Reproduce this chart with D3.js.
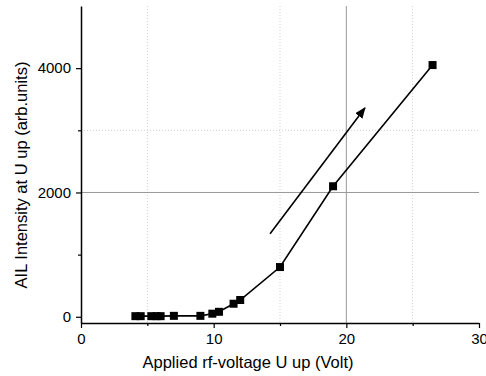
<!DOCTYPE html>
<html>
<head>
<meta charset="utf-8">
<script src="https://cdn.jsdelivr.net/npm/d3@7"></script>
<style>
  body { margin: 0; background: #fff; }
  svg { font-family: "Liberation Sans", Arial, sans-serif; }
</style>
</head>
<body>
<div id="chart"></div>
<script>
// measured points (U up in Volt, AIL intensity)
const voltage = [4.1, 4.5, 5.3, 5.7, 6.0, 7.0, 9.0, 9.9, 10.4, 11.5, 12.0, 15.0, 19.0, 26.5];
const intensity = [10, 10, 10, 10, 10, 15, 15, 50, 80, 210, 270, 800, 2100, 4050];
const xTicks = [0, 10, 20, 30];
const yTicks = [0, 2000, 4000];
const arrowStart = [14.25, 1335];
const arrowEnd = [21.4, 3360];

const width = 486, height = 376;
const margin = { top: 6, right: 7, bottom: 53, left: 81 };
const w = width - margin.left - margin.right;
const h = height - margin.top - margin.bottom;

const x = d3.scaleLinear().domain([0, 30]).range([0, w]);
const y = d3.scaleLinear().domain([-100, 5000]).range([h, 0]);

const svg = d3.select('#chart').append('svg')
  .attr('width', width)
  .attr('height', height)
  .append('g')
  .attr('transform', 'translate(' + margin.left + ',' + margin.top + ')');

// grid lines
[5, 15, 25].forEach(v => {
  svg.append('line')
    .attr('x1', x(v)).attr('x2', x(v)).attr('y1', 0).attr('y2', h)
    .attr('stroke', '#d0d0d0').attr('stroke-dasharray', '1,2');
});
svg.append('line')
  .attr('x1', 0).attr('x2', w).attr('y1', y(3000)).attr('y2', y(3000))
  .attr('stroke', '#d0d0d0').attr('stroke-dasharray', '1,2');
svg.append('line')
  .attr('x1', x(20)).attr('x2', x(20)).attr('y1', 0).attr('y2', h)
  .attr('stroke', '#999');
svg.append('line')
  .attr('x1', 0).attr('x2', w).attr('y1', y(2000)).attr('y2', y(2000))
  .attr('stroke', '#999');

// axes
svg.append('g')
  .attr('transform', 'translate(0,' + h + ')')
  .call(d3.axisBottom(x).tickValues(xTicks).tickFormat(d3.format('d'))
    .tickSize(5).tickSizeOuter(0).tickPadding(5));
svg.append('g')
  .attr('transform', 'translate(0,' + h + ')')
  .call(d3.axisBottom(x).tickValues([5, 15, 25]).tickSize(3).tickFormat(''))
  .select('.domain').remove();

svg.append('g')
  .call(d3.axisLeft(y).tickValues(yTicks).tickFormat(d3.format('d'))
    .tickSize(5).tickSizeOuter(0).tickPadding(5));
svg.append('g')
  .call(d3.axisLeft(y).tickValues([1000, 3000]).tickSize(3).tickFormat(''))
  .select('.domain').remove();

svg.selectAll('.tick text').style('font-size', '15px').attr('fill', '#000');
svg.selectAll('.domain').attr('stroke', '#000').attr('stroke-width', 1.5);
svg.selectAll('.tick line').attr('stroke', '#000').attr('stroke-width', 1.2);

// data line and markers
const pts = voltage.map((v, i) => [v, intensity[i]]);
svg.append('path')
  .datum(pts)
  .attr('fill', 'none')
  .attr('stroke', '#000')
  .attr('stroke-width', 1.6)
  .attr('d', d3.line().x(d => x(d[0])).y(d => y(d[1])));

svg.selectAll('.pt')
  .data(pts)
  .enter().append('rect')
  .attr('class', 'pt')
  .attr('x', d => x(d[0]) - 4)
  .attr('y', d => y(d[1]) - 4)
  .attr('width', 8)
  .attr('height', 8)
  .attr('fill', '#000');

// arrow
svg.append('defs').append('marker')
  .attr('id', 'head')
  .attr('viewBox', '0 0 10 10')
  .attr('refX', 9).attr('refY', 5)
  .attr('markerWidth', 7).attr('markerHeight', 7)
  .attr('orient', 'auto')
  .append('path')
  .attr('d', 'M0,1 L10,5 L0,9 Z')
  .attr('fill', '#000');

svg.append('line')
  .attr('x1', x(arrowStart[0])).attr('y1', y(arrowStart[1]))
  .attr('x2', x(arrowEnd[0])).attr('y2', y(arrowEnd[1]))
  .attr('stroke', '#000').attr('stroke-width', 1.6)
  .attr('marker-end', 'url(#head)');

// axis titles
svg.append('text')
  .attr('x', 248 - margin.left)
  .attr('y', 368 - margin.top)
  .style('text-anchor', 'middle')
  .style('font-size', '16.5px')
  .text('Applied rf-voltage U up (Volt)');

svg.append('text')
  .attr('transform', 'rotate(-90)')
  .attr('x', -(175 - margin.top))
  .attr('y', 27 - margin.left)
  .style('text-anchor', 'middle')
  .style('font-size', '16.5px')
  .text('AIL Intensity at U up (arb.units)');
</script>
</body>
</html>
